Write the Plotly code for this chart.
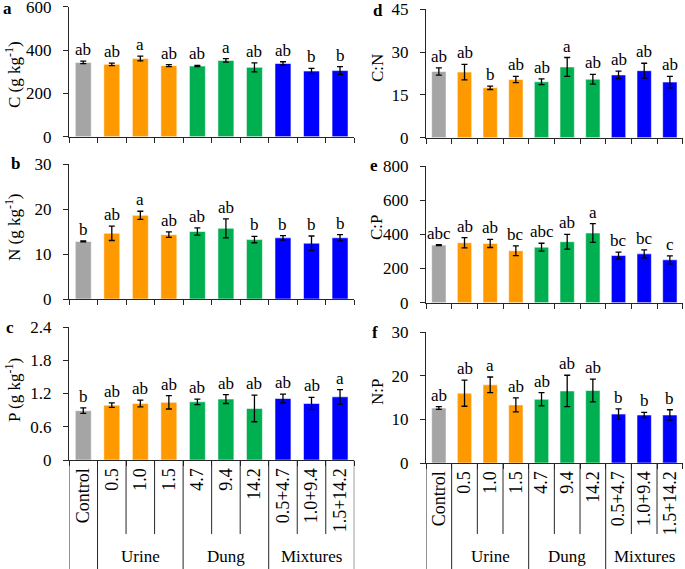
import plotly.graph_objects as go

W, H = 685, 569

# ---------------- data ----------------
categories = ["Control", "0.5", "1.0", "1.5", "4.7", "9.4", "14.2",
              "0.5+4.7", "1.0+9.4", "1.5+14.2"]
group_of = ["", "Urine", "Urine", "Urine", "Dung", "Dung", "Dung",
            "Mixtures", "Mixtures", "Mixtures"]
group_colors = {"": "#A5A5A5", "Urine": "#FF9900", "Dung": "#00B050", "Mixtures": "#0000FF"}

C_vals = [343, 334, 361, 328, 326, 352, 320, 338, 303, 305]
C_err = [6, 6, 11, 5, 3, 8, 21, 8, 12, 18]
C_let = ["ab", "ab", "a", "ab", "ab", "a", "ab", "ab", "b", "b"]

N_vals = [12.8, 14.6, 18.6, 14.3, 15.0, 15.7, 13.2, 13.6, 12.4, 13.6]
N_err = [0.1, 1.6, 0.9, 0.6, 0.8, 2.1, 0.7, 0.5, 1.6, 0.7]
N_let = ["b", "ab", "a", "ab", "ab", "ab", "b", "b", "b", "b"]

P_vals = [0.89, 0.99, 1.02, 1.04, 1.05, 1.10, 0.93, 1.11, 1.02, 1.14]
P_err = [0.05, 0.04, 0.06, 0.12, 0.05, 0.08, 0.24, 0.08, 0.11, 0.13]
P_let = ["b", "ab", "ab", "ab", "ab", "ab", "ab", "ab", "ab", "a"]

CN_vals = [23.2, 23.0, 17.5, 20.4, 19.6, 24.8, 20.5, 22.0, 23.5, 19.5]
CN_err = [1.3, 2.7, 0.6, 1.1, 1.0, 3.3, 1.7, 1.3, 2.6, 2.0]
CN_let = ["ab", "ab", "b", "ab", "ab", "a", "ab", "ab", "ab", "ab"]

CP_vals = [337, 351, 347, 304, 325, 357, 408, 276, 286, 251]
CP_err = [3, 30, 24, 29, 23, 43, 55, 20, 23, 23]
CP_let = ["abc", "ab", "ab", "bc", "abc", "ab", "a", "bc", "bc", "c"]

NP_vals = [12.6, 16.0, 17.9, 13.3, 14.6, 16.5, 16.6, 11.2, 11.0, 11.0]
NP_err = [0.3, 3.0, 1.8, 1.6, 1.5, 3.6, 2.6, 1.2, 0.6, 1.2]
NP_let = ["ab", "ab", "a", "ab", "ab", "ab", "ab", "b", "b", "b"]

panel_letters = ["a", "b", "c", "d", "e", "f"]
y_titles = ["C (g kg<sup>-1</sup>)", "N (g kg<sup>-1</sup>)", "P (g kg<sup>-1</sup>)",
            "C:N", "C:P", "N:P"]
y_ticks = [[0, 200, 400, 600], [0, 10, 20, 30], [0, 0.6, 1.2, 1.8, 2.4],
           [0, 15, 30, 45], [0, 200, 400, 600, 800], [0, 10, 20, 30]]

# ---------------- layout helpers ----------------
FONT = "Liberation Serif, Times New Roman, serif"
FS = 17
FS_CAT = 18


def px_x(p):
    return p / W


def px_y(p):
    return 1 - p / H


panels = [
    dict(v=C_vals, e=C_err, l=C_let, xd=(69, 354.3), yd=(6.7, 136.7), letter_xy=(8, 8.5), title_xy=(13, 75)),
    dict(v=N_vals, e=N_err, l=N_let, xd=(69, 354.3), yd=(164, 299), letter_xy=(16, 163), title_xy=(13, 227)),
    dict(v=P_vals, e=P_err, l=P_let, xd=(69, 354.3), yd=(327, 460), letter_xy=(10, 328), title_xy=(13, 390)),
    dict(v=CN_vals, e=CN_err, l=CN_let, xd=(426, 682.7), yd=(9.3, 137.7), letter_xy=(378, 10.5), title_xy=(377, 68)),
    dict(v=CP_vals, e=CP_err, l=CP_let, xd=(426, 682.7), yd=(166, 302.7), letter_xy=(374, 165), title_xy=(376, 227)),
    dict(v=NP_vals, e=NP_err, l=NP_let, xd=(426, 682.7), yd=(332, 463), letter_xy=(375, 332), title_xy=(377, 392)),
]

bar_colors = [group_colors[g] for g in group_of]

fig = go.Figure()
annotations = []
shapes = []
layout = dict(
    width=W, height=H, autosize=False,
    margin=dict(l=0, r=0, t=0, b=0),
    paper_bgcolor="white", plot_bgcolor="white",
    showlegend=False, bargap=0.44,
    font=dict(family=FONT, size=FS, color="black"),
)

for i, p in enumerate(panels):
    k = i + 1
    xa = "x" if k == 1 else f"x{k}"
    ya = "y" if k == 1 else f"y{k}"
    fig.add_trace(go.Bar(
        x=categories, y=p["v"], xaxis=xa, yaxis=ya,
        marker=dict(color=bar_colors, line=dict(color="rgba(255,255,255,0.55)", width=1)),
        error_y=dict(type="data", array=p["e"], visible=True, color="black", thickness=1.3, width=3),
        hoverinfo="skip",
    ))
    bottom_panel = k in (3, 6)
    layout["xaxis" if k == 1 else f"xaxis{k}"] = dict(
        domain=[px_x(p["xd"][0]), px_x(p["xd"][1])],
        anchor=ya, type="category", categoryorder="array", categoryarray=categories,
        showline=True, linecolor="#262626", linewidth=1,
        ticks="outside", tickson="boundaries", ticklen=5, tickcolor="#262626",
        showgrid=False, zeroline=False,
        showticklabels=bottom_panel, tickangle=-90,
        tickfont=dict(family=FONT, size=FS_CAT), automargin=False,
        ticklabeloverflow="allow",
        range=[-0.5, len(categories) - 0.5],
    )
    yt = y_ticks[i]
    layout["yaxis" if k == 1 else f"yaxis{k}"] = dict(
        domain=[px_y(p["yd"][1]), px_y(p["yd"][0])],
        anchor=xa, range=[0, yt[-1]], tickvals=yt,
        showline=True, linecolor="#262626", linewidth=1,
        ticks="outside", ticklen=5, tickcolor="#262626",
        showgrid=False, zeroline=False, ticklabelstandoff=8,
        ticklabeloverflow="allow",
        tickfont=dict(family=FONT, size=FS), automargin=False,
    )
    # significance letters
    for j, (v, e, lt) in enumerate(zip(p["v"], p["e"], p["l"])):
        annotations.append(dict(
            x=j, y=v + e, xref=xa, yref=ya, text=lt, showarrow=False,
            yanchor="bottom", xanchor="center", yshift=0,
            font=dict(family=FONT, size=FS, color="black"),
        ))
    # panel letter
    annotations.append(dict(
        x=px_x(p["letter_xy"][0]), y=px_y(p["letter_xy"][1]), xref="paper", yref="paper",
        text=f"<b>{panel_letters[i]}</b>", showarrow=False, xanchor="center", yanchor="middle",
        font=dict(family=FONT, size=FS, color="black"),
    ))
    # y title
    annotations.append(dict(
        x=px_x(p["title_xy"][0]), y=px_y(p["title_xy"][1]), xref="paper", yref="paper",
        text=y_titles[i], showarrow=False, textangle=-90, xanchor="center", yanchor="middle",
        font=dict(family=FONT, size=FS, color="black"),
    ))

    if bottom_panel:
        y_axis_px = p["yd"][1]
        n = len(categories)
        # table lines below the axis
        for b in range(-1, n):
            left_g = group_of[b] if b >= 0 else None
            right_g = group_of[b + 1] if b + 1 < n else None
            if right_g is None and k == 6:
                continue
            full = (left_g != right_g)
            shapes.append(dict(
                type="line", xref=xa, yref="paper",
                x0=b + 0.5, x1=b + 0.5,
                y0=px_y(y_axis_px), y1=(0 if full else px_y(534)),
                line=dict(color="#262626", width=1),
            ))
        # group labels
        for g in ["Urine", "Dung", "Mixtures"]:
            idx = [j for j, gg in enumerate(group_of) if gg == g]
            annotations.append(dict(
                x=sum(idx) / len(idx), y=px_y(556), xref=xa, yref="paper",
                text=g, showarrow=False, xanchor="center", yanchor="middle",
                font=dict(family=FONT, size=FS, color="black"),
            ))

layout["annotations"] = annotations
layout["shapes"] = shapes
fig.update_layout(**layout)
fig.write_html("out.html", config={"displayModeBar": False},
               post_script="document.body.style.margin='0';document.body.style.overflow='hidden';")
